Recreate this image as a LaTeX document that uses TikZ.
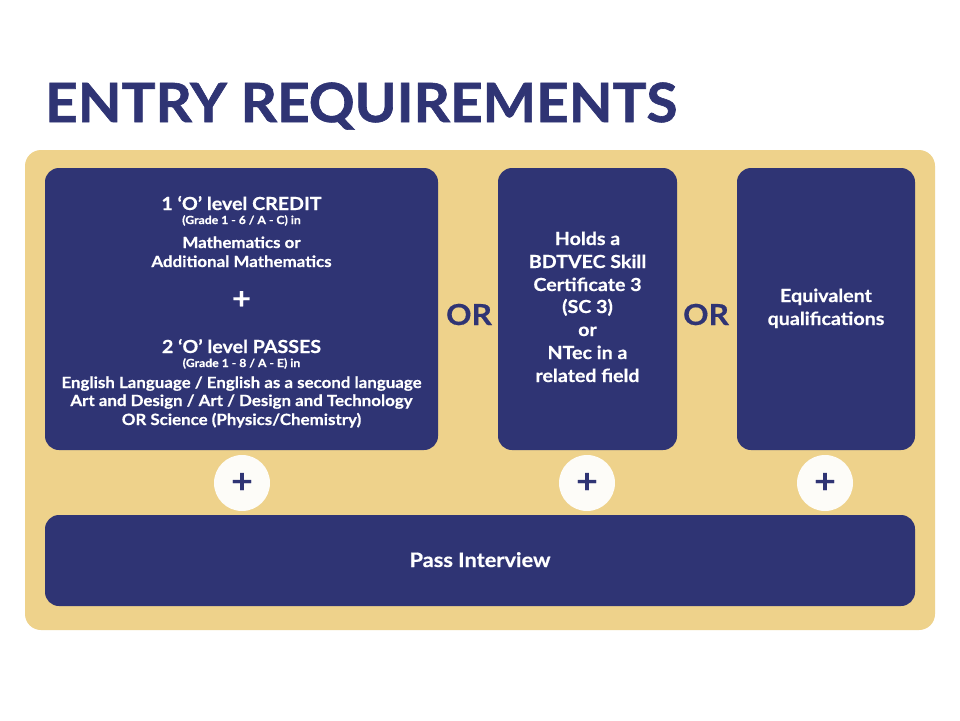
\documentclass[tikz,border=0pt]{standalone}
\usepackage{fontspec}
\setmainfont{Lato}[FakeStretch=1.09, BoldFeatures={FakeBold=0.5}]
\newfontfamily\titlefont{Lato}[FakeStretch=1.05, BoldFeatures={FakeBold=1.2}]
\definecolor{navy}{RGB}{47,52,116}
\definecolor{sand}{RGB}{238,210,139}
\definecolor{cream}{RGB}{253,252,248}
\begin{document}
\begin{tikzpicture}[x=1pt,y=-1pt,
  panelbox/.style={fill=navy, draw=none, rounded corners=14pt, inner sep=0pt},
  plusdisc/.style={circle, fill=cream, draw=none, minimum size=56pt, inner sep=0pt,
    text=navy, font=\fontsize{34}{34}\selectfont\bfseries},
  wt/.style={text=white, inner sep=0pt, anchor=base, font=\bfseries\fontsize{18}{22}\selectfont},
  wsmall/.style={wt, font=\bfseries\fontsize{11.2}{12}\selectfont},
  wmid/.style={wt, font=\bfseries\fontsize{15.5}{18}\selectfont},
  ortxt/.style={text=navy, inner sep=0pt, anchor=base, font=\bfseries\fontsize{29}{30}\selectfont}]
\useasboundingbox (0,0) rectangle (960,720);
\fill[white] (0,0) rectangle (960,720);
\node[anchor=base west, inner sep=0pt, text=navy, font=\titlefont\bfseries\fontsize{54}{60}\selectfont] (title) at (45,122) {ENTRY REQUIREMENTS};
\node[fill=sand, draw=none, rounded corners=16pt, minimum width=910pt, minimum height=480pt] (bg) at (480,390) {};
\node[panelbox, minimum width=393pt, minimum height=282pt] (left) at (241.5,309) {};
\node[panelbox, minimum width=179pt, minimum height=282pt] (mid) at (587.5,309) {};
\node[panelbox, minimum width=178pt, minimum height=282pt] (right) at (826,309) {};
\node[panelbox, minimum width=870pt, minimum height=91pt] (bottom) at (480,560.5) {};
\node[plusdisc] (p1) at (242,483) {+};
\node[plusdisc] (p2) at (587,483) {+};
\node[plusdisc] (p3) at (825,483) {+};
% left box
\node[wt] (l1) at (241.5,210) {1 ‘O’ level CREDIT};
\node[wsmall] (l2) at (241.5,224) {(Grade 1 - 6 / A - C) in};
\node[wmid] (l3) at (241.5,248) {Mathematics or};
\node[wmid] (l4) at (241.5,267) {Additional Mathematics};
\node[text=white, inner sep=0pt, font=\bfseries\fontsize{30}{30}\selectfont] (l5) at (241.5,300) {+};
\node[wt] (l6) at (241.5,353) {2 ‘O’ level PASSES};
\node[wsmall] (l7) at (241.5,367) {(Grade 1 - 8 / A - E) in};
\node[wmid] (l8) at (241.5,388) {English Language / English as a second language};
\node[wmid] (l9) at (241.5,406) {Art and Design / Art / Design and Technology};
\node[wmid] (l10) at (241.5,425) {OR Science (Physics/Chemistry)};
% middle box
\node[wt] (m1) at (587.5,245) {Holds a};
\node[wt] (m2) at (587.5,268) {BDTVEC Skill};
\node[wt] (m3) at (587.5,291) {Certificate 3};
\node[wt] (m4) at (587.5,313) {(SC 3)};
\node[wt] (m5) at (587.5,336) {or};
\node[wt] (m6) at (587.5,359) {NTec in a};
\node[wt] (m7) at (587.5,382) {related field};
% right box
\node[wt] (r1) at (826,302) {Equivalent};
\node[wt] (r2) at (826,325) {qualifications};
% OR
\node[ortxt] (or1) at (469,325) {OR};
\node[ortxt] (or2) at (706,325) {OR};
% bottom
\node[wt, font=\bfseries\fontsize{20}{24}\selectfont] (b1) at (480,567) {Pass Interview};
\end{tikzpicture}
\end{document}
